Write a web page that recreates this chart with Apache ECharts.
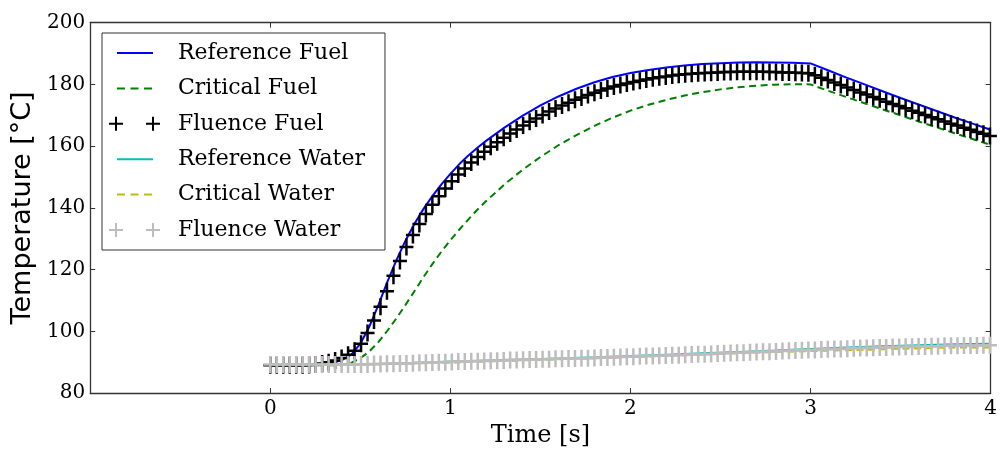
<!DOCTYPE html>
<html><head><meta charset="utf-8">
<script src="https://cdn.jsdelivr.net/npm/echarts@6/dist/echarts.min.js"></script>
<style>html,body{margin:0;padding:0;background:#fff}#c{width:1000px;height:453px}</style>
</head><body><div id="c"></div>
<script>
// ---- data ----
const seriesNames = ['Reference Fuel','Critical Fuel','Fluence Fuel','Reference Water','Critical Water','Fluence Water'];
const xTicks = [0,1,2,3,4];
const yTicks = [80,100,120,140,160,180,200];

const tFuel = [0,0.1,0.2,0.25,0.3,0.35,0.4,0.45,0.5,0.55,0.6,0.65,0.7,0.75,0.8,0.85,0.9,0.95,1.0,1.05,1.1,1.15,1.2,1.3,1.4,1.5,1.6,1.7,1.8,1.9,2.0,2.1,2.2,2.3,2.4,2.5,2.6,2.7,2.8,2.9,3.0,3.1,3.2,3.3,3.4,3.5,3.6,3.7,3.8,3.9,4.0];
const referenceFuel = [89.0,89.0,89.0,89.1,89.3,89.8,90.8,92.5,96.0,101.5,108.5,116.0,123.0,129.3,134.8,139.6,143.8,147.6,151.0,154.2,157.0,159.5,161.8,166.0,169.8,173.2,176.1,178.6,180.7,182.4,183.7,184.7,185.5,186.1,186.6,186.9,187.1,187.2,187.1,187.0,186.8,184.5,182.2,180.0,177.8,175.6,173.5,171.4,169.3,167.3,165.3];
const criticalFuel = [89.0,89.0,89.0,89.0,89.0,89.0,89.2,89.8,91.3,93.5,96.5,100.2,104.2,108.5,113.0,117.5,121.8,125.8,129.5,133.0,136.3,139.4,142.3,147.6,152.3,156.5,160.3,163.6,166.6,169.2,171.5,173.4,175.0,176.4,177.5,178.4,179.1,179.6,179.9,180.1,180.0,177.9,175.9,173.9,171.9,170.0,168.0,166.1,164.2,162.3,160.4];

const tWater = [0,0.2,0.4,0.6,0.8,1.0,1.2,1.4,1.6,1.8,2.0,2.2,2.4,2.6,2.8,3.0,3.2,3.4,3.6,3.8,4.0];
const referenceWater = [89.3,89.3,89.3,89.45,89.8,90.2,90.55,90.9,91.25,91.6,92.0,92.45,92.9,93.35,93.8,94.3,94.75,95.15,95.5,95.8,96.0];
const criticalWater = [89.3,89.3,89.3,89.35,89.6,89.9,90.25,90.6,90.95,91.3,91.7,92.1,92.5,92.9,93.3,93.6,93.9,94.2,94.5,94.8,94.8];

const tFluence = [0.000,0.036,0.072,0.108,0.144,0.180,0.216,0.252,0.288,0.324,0.360,0.396,0.432,0.468,0.504,0.540,0.576,0.612,0.648,0.684,0.720,0.756,0.792,0.828,0.864,0.900,0.936,0.972,1.008,1.044,1.080,1.116,1.152,1.188,1.224,1.260,1.296,1.332,1.368,1.404,1.440,1.476,1.512,1.548,1.584,1.620,1.656,1.692,1.728,1.764,1.800,1.836,1.872,1.908,1.944,1.980,2.016,2.052,2.088,2.124,2.160,2.196,2.232,2.268,2.304,2.340,2.376,2.412,2.448,2.484,2.520,2.556,2.592,2.628,2.664,2.700,2.736,2.772,2.808,2.844,2.880,2.916,2.952,2.988,3.024,3.060,3.096,3.132,3.168,3.204,3.240,3.276,3.312,3.348,3.384,3.420,3.456,3.492,3.528,3.564,3.600,3.636,3.672,3.708,3.744,3.780,3.816,3.852,3.888,3.924,3.960,3.996];
const fluenceFuel = [89.0,89.0,89.0,89.0,89.0,89.0,89.1,89.3,89.6,90.0,90.6,91.4,92.4,93.7,96.0,99.5,103.5,108.0,113.0,118.0,122.8,127.3,131.2,134.8,138.0,141.0,143.8,146.3,148.6,150.8,152.8,154.7,156.5,158.2,159.8,161.3,162.7,164.1,165.4,166.7,167.9,169.0,170.1,171.2,172.2,173.2,174.1,175.0,175.8,176.6,177.3,178.0,178.7,179.3,179.8,180.3,180.8,181.2,181.6,182.0,182.3,182.6,182.9,183.1,183.3,183.5,183.6,183.7,183.8,183.9,184.0,184.0,184.1,184.1,184.1,184.1,184.1,184.0,184.0,183.9,183.9,183.8,183.7,183.6,183.0,182.2,181.4,180.6,179.8,179.0,178.2,177.4,176.7,175.9,175.2,174.4,173.7,173.0,172.3,171.5,170.8,170.1,169.4,168.7,168.0,167.3,166.7,166.0,165.3,164.6,164.0,163.3];
const fluenceWater = [89.3,89.3,89.3,89.3,89.3,89.3,89.3,89.3,89.3,89.3,89.3,89.3,89.3,89.3,89.3,89.3,89.4,89.4,89.5,89.5,89.6,89.6,89.7,89.8,89.8,89.9,90.0,90.0,90.1,90.2,90.2,90.3,90.3,90.4,90.5,90.5,90.6,90.7,90.7,90.8,90.9,90.9,91.0,91.0,91.1,91.1,91.2,91.2,91.3,91.3,91.4,91.5,91.5,91.6,91.7,91.8,91.8,91.9,92.0,92.0,92.1,92.2,92.3,92.3,92.4,92.5,92.6,92.6,92.7,92.8,92.9,93.0,93.1,93.1,93.2,93.3,93.4,93.4,93.5,93.6,93.7,93.8,93.9,94.0,94.0,94.1,94.2,94.3,94.3,94.4,94.5,94.6,94.6,94.7,94.8,94.8,94.9,94.9,95.0,95.0,95.1,95.1,95.2,95.2,95.3,95.3,95.3,95.4,95.4,95.4,95.5,95.5];

// ---- chart ----
const SERIF = 'DejaVu Serif';
const AX = '#333';
const pairs = (xs, ys) => xs.map((x, i) => [x, ys[i]]);
const plusPath = 'path://M5.75,0H8.25V7.25H14V9.75H8.25V17H5.75V9.75H0V7.25H5.75Z';
const iconLine = 'path://M0,0M54,14M9,6H45V8H9Z';
const iconDash = 'path://M0,0M54,14M9,6H17V8H9Z M22.5,6H30.5V8H22.5Z M36,6H44V8H36Z';
const iconPlus = 'path://M0,0M54,14M7,0H9V6H15V8H9V14H7V8H1V6H7Z M44,0H46V6H52V8H46V14H44V8H38V6H44Z';
const colors = ['#0000ff','#008000','#000000','#00bfbf','#bfbf00','#bdbdbd'];
const icons = [iconLine, iconDash, iconPlus, iconLine, iconDash, iconPlus];

function axisCommon(extra) {
  return Object.assign({
    type: 'value',
    splitLine: { show: false },
    axisLine: { show: true, onZero: false, lineStyle: { color: AX, width: 1.3 } },
    axisTick: { show: true, inside: true, length: 5, lineStyle: { color: AX, width: 1 } },
  }, extra);
}

const chart = echarts.init(document.getElementById('c'), null, { renderer: 'canvas' });
chart.setOption({
  animation: false,
  backgroundColor: '#fff',
  grid: { left: 90.2, right: 7.3, top: 22.7, bottom: 55.3, containLabel: false },
  xAxis: [
    axisCommon({ position: 'bottom', min: -1, max: xTicks[xTicks.length - 1], interval: 1,
      axisLabel: { margin: 6, fontFamily: SERIF, fontSize: 20, color: '#000',
        formatter: v => (xTicks.indexOf(v) >= 0 ? String(v) : '') },
      name: 'Time [s]', nameLocation: 'middle', nameGap: 29,
      nameTextStyle: { fontFamily: SERIF, fontSize: 24, color: '#000' } }),
    axisCommon({ position: 'top', min: -1, max: xTicks[xTicks.length - 1], interval: 1,
      axisLabel: { show: false } })
  ],
  yAxis: [
    axisCommon({ position: 'left', min: yTicks[0], max: yTicks[yTicks.length - 1], interval: 20,
      axisLabel: { margin: 5, fontFamily: SERIF, fontSize: 20, color: '#000' },
      name: 'Temperature [°C]', nameLocation: 'middle', nameGap: 47,
      nameTextStyle: { fontFamily: 'DejaVu Sans', fontSize: 27, color: '#000' } }),
    axisCommon({ position: 'right', min: yTicks[0], max: yTicks[yTicks.length - 1], interval: 20,
      axisLabel: { show: false } })
  ],
  legend: {
    orient: 'vertical', left: 102, top: 33,
    padding: [9, 20, 9, 6],
    itemGap: 13.4, itemWidth: 54, itemHeight: 14,
    borderColor: '#333', borderWidth: 1, backgroundColor: '#fff',
    textStyle: { fontFamily: SERIF, fontSize: 22, lineHeight: 22, color: '#000', padding: [0, 0, 0, 11] },
    selectedMode: false,
    data: seriesNames.map((n, i) => ({ name: n, icon: icons[i],
      itemStyle: { color: colors[i], borderWidth: 0, opacity: 1 } }))
  },
  series: [
    { name: seriesNames[0], type: 'line', data: pairs(tFuel, referenceFuel), symbol: 'none', showSymbol: false,
      color: colors[0], lineStyle: { color: colors[0], width: 2 }, z: 2 },
    { name: seriesNames[1], type: 'line', data: pairs(tFuel, criticalFuel), symbol: 'none', showSymbol: false,
      color: colors[1], lineStyle: { color: colors[1], width: 2, type: [7, 4.5] }, z: 2 },
    { name: seriesNames[2], type: 'scatter', data: pairs(tFluence, fluenceFuel), symbol: plusPath,
      symbolSize: [14, 17], symbolKeepAspect: false, color: colors[2],
      itemStyle: { color: colors[2], opacity: 1 }, z: 2 },
    { name: seriesNames[3], type: 'line', data: pairs(tWater, referenceWater), symbol: 'none', showSymbol: false,
      color: colors[3], lineStyle: { color: colors[3], width: 2 }, z: 2 },
    { name: seriesNames[4], type: 'line', data: pairs(tWater, criticalWater), symbol: 'none', showSymbol: false,
      color: colors[4], lineStyle: { color: colors[4], width: 2, type: [7, 4.5] }, z: 2 },
    { name: seriesNames[5], type: 'scatter', data: pairs(tFluence, fluenceWater), symbol: plusPath,
      symbolSize: [14, 17], symbolKeepAspect: false, color: colors[5],
      itemStyle: { color: colors[5], opacity: 1 }, z: 2 }
  ]
});
</script></body></html>
